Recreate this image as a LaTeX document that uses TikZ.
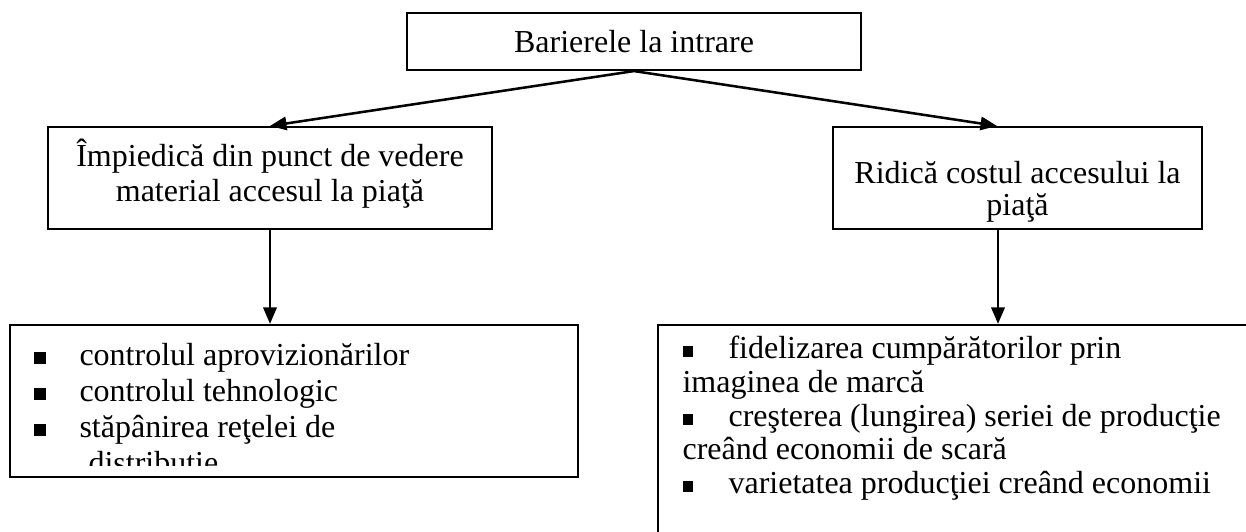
\documentclass[tikz,border=0pt]{standalone}
\usepackage{fontspec}
\setmainfont{Liberation Serif}
\usetikzlibrary{arrows.meta,calc}
\begin{document}
\begin{tikzpicture}[x=0.375pt,y=-0.375pt,
  box/.style={draw,line width=0.8pt,inner sep=0pt},
  txt/.style={inner sep=0pt,align=center},
  conn/.style={line width=0.95pt,-{Triangle[length=6.2pt,width=5pt]}},
  item/.style={anchor=base west,inner sep=0pt,font=\fontsize{12pt}{13.5pt}\selectfont},
  bul/.style={anchor=base west,inner sep=0pt}]
\clip (0,0) rectangle (1246,531);
% main boxes
\node[box,minimum width=170.25pt,minimum height=21.375pt,font=\fontsize{12pt}{13.5pt}\selectfont] (top) at (634,41.5) {Barierele la intrare};
\node[box,minimum width=166.5pt,minimum height=38.25pt] (left) at (270,178) {};
\node[txt,font=\fontsize{12pt}{13.1pt}\selectfont] (lefttxt) at (270,174) {Împiedică din punct de vedere\\material accesul la piaţă};
\node[box,minimum width=138.375pt,minimum height=38.25pt] (right) at (1017.5,178) {};
\node[txt,font=\fontsize{12pt}{12pt}\selectfont] (righttxt) at (1017.5,192) {Ridică costul accesului la\\piaţă};
\node[box,minimum width=213pt,minimum height=57pt] (bl) at (294,401) {};
\node[box,minimum width=240.75pt,minimum height=103.125pt] (br) at (979,462.5) {};
% connectors
\coordinate (rin) at ($(right.north)+(-20.5,0)$);
\coordinate (rout) at ($(right.south)+(-19.5,0)$);
\draw[conn] (top.south) -- (left.north);
\draw[conn] (top.south) -- (rin);
\draw[conn] (left.south) -- (left.south |- bl.north);
\draw[conn] (rout) -- (rout |- br.north);
% bottom-left list
\begin{scope}
\clip (10,325) rectangle (578,465);
\node[bul] (bl1) at (33,364) {\rule{4.5pt}{4.5pt}};
\node[item] (tl1) at (79,365) {controlul aprovizionărilor};
\node[bul] (bl2) at (33,400) {\rule{4.5pt}{4.5pt}};
\node[item] (tl2) at (79,401) {controlul tehnologic};
\node[bul] (bl3) at (33,436) {\rule{4.5pt}{4.5pt}};
\node[item] (tl3) at (79,437) {stăpânirea reţelei de};
\node[item] (tl4) at (88,473) {distribuţie};
\end{scope}
% bottom-right list
\node[bul] (br1) at (682,357) {\rule{4pt}{4pt}};
\node[item] (tr1) at (728,358) {fidelizarea cumpărătorilor prin};
\node[item] (tr2) at (682,392) {imaginea de marcă};
\node[bul] (br3) at (682,425) {\rule{4pt}{4pt}};
\node[item] (tr3) at (728,426) {creşterea (lungirea) seriei de producţie};
\node[item] (tr4) at (682,459) {creând economii de scară};
\node[bul] (br5) at (682,492) {\rule{4pt}{4pt}};
\node[item] (tr5) at (728,493) {varietatea producţiei creând economii};
\end{tikzpicture}
\end{document}
